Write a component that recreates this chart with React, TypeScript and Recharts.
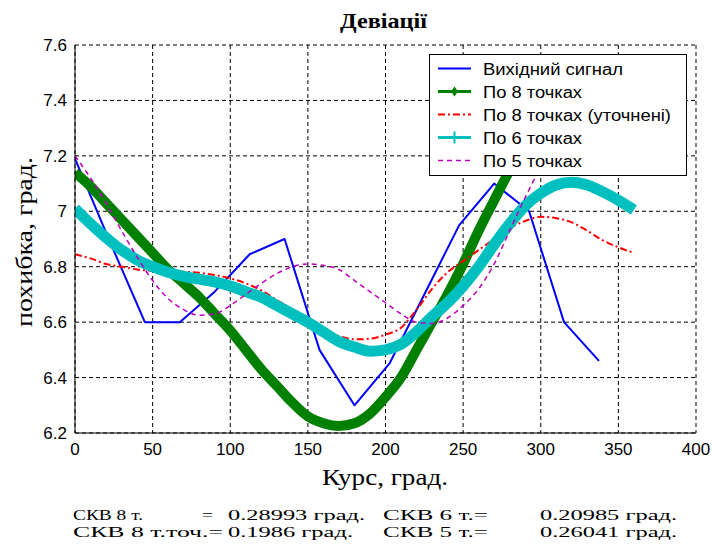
import { LineChart, Line, XAxis, YAxis, CartesianGrid } from "recharts";

// course, degrees
const sourceCourse = [0, 22.5, 45, 67.5, 90, 112.5, 135, 157.5, 180, 202.5, 225, 247.5, 270, 292.5, 315, 337.5];
const sourceSignal = [7.19, 6.89, 6.6, 6.6, 6.71, 6.845, 6.9, 6.5, 6.3, 6.45, 6.7, 6.95, 7.1, 7.0, 6.6, 6.46];

const fitCourse = [
  0, 10, 20, 30, 40, 50, 60, 70, 80, 90, 100, 110, 120, 130, 140, 150, 160, 170, 180,
  190, 200, 210, 220, 230, 240, 250, 260, 270, 280, 290, 300, 310, 320, 330, 340, 350, 360,
];
const fit8 = [
  7.14, 7.09, 7.03, 6.97, 6.91, 6.85, 6.79, 6.74, 6.69, 6.63, 6.57, 6.5, 6.43, 6.37, 6.31, 6.26, 6.235, 6.225, 6.235,
  6.27, 6.33, 6.4, 6.5, 6.6, 6.7, 6.81, 6.93, 7.04, 7.15, 7.27, 7.37, 7.45, 7.49, 7.47, 7.4, 7.28, 7.14,
];
const fit8Refined = [
  6.845, 6.83, 6.81, 6.8, 6.79, 6.785, 6.783, 6.782, 6.778, 6.77, 6.758, 6.74, 6.715, 6.68, 6.645, 6.6, 6.57, 6.55, 6.538,
  6.54, 6.555, 6.58, 6.645, 6.72, 6.78, 6.82, 6.86, 6.9, 6.94, 6.965, 6.98, 6.975, 6.96, 6.93, 6.895, 6.87, 6.85,
];
const fit6 = [
  7.01, 6.955, 6.905, 6.86, 6.825, 6.8, 6.78, 6.765, 6.755, 6.745, 6.73, 6.71, 6.69, 6.66, 6.63, 6.6, 6.565, 6.53, 6.51,
  6.495, 6.5, 6.52, 6.565, 6.62, 6.67, 6.73, 6.8, 6.88, 6.955, 7.02, 7.065, 7.095, 7.105, 7.095, 7.07, 7.04, 7.005,
];
const fit5 = [
  7.2, 7.12, 7.03, 6.93, 6.835, 6.75, 6.685, 6.645, 6.625, 6.63, 6.66, 6.7, 6.74, 6.775, 6.8, 6.81, 6.805, 6.79, 6.75,
  6.71, 6.67, 6.63, 6.6, 6.595, 6.615, 6.66, 6.72, 6.81, 6.93, 7.05, 7.16, 7.26, 7.32, 7.34, 7.32, 7.27, 7.2,
];

const xTicks = [0, 50, 100, 150, 200, 250, 300, 350, 400];
const yTicks = [6.2, 6.4, 6.6, 6.8, 7, 7.2, 7.4, 7.6];

const seriesNames = ["Вихідний сигнал", "По 8 точках", "По 8 точках (уточнені)", "По 6 точках", "По 5 точках"];
const legendTextWidths = [140, 99, 188, 99, 99];

// [text, x, width] for each line of the summary under the chart
const statsRows: [string, number, number][][] = [
  [["СКВ 8 т.", 73, 70], ["=", 202, 11], ["0.28993 град.", 228, 137], ["СКВ 6 т.=", 383, 105], ["0.20985 град.", 540, 137]],
  [["СКВ 8 т.точ.=", 73, 150], ["0.1986 град.", 228, 125], ["СКВ 5 т.=", 383, 105], ["0.26041 град.", 540, 137]],
];

const toPoints = (xs: number[], ys: number[]) => xs.map((x, i) => ({ x, y: ys[i] }));

const series = [
  { name: seriesNames[0], data: toPoints(sourceCourse, sourceSignal), color: "#0000ff", width: 2, dash: undefined, type: "linear" },
  { name: seriesNames[1], data: toPoints(fitCourse, fit8), color: "#008000", width: 10, dash: undefined, type: "monotone" },
  { name: seriesNames[2], data: toPoints(fitCourse, fit8Refined), color: "#ff0000", width: 2, dash: "7 3 2 3", type: "monotone" },
  { name: seriesNames[3], data: toPoints(fitCourse, fit6), color: "#00bfbf", width: 11, dash: undefined, type: "monotone" },
  { name: seriesNames[4], data: toPoints(fitCourse, fit5), color: "#bf00bf", width: 1.5, dash: "5 4", type: "monotone" },
];

const serif = "'Liberation Serif', 'Times New Roman', serif";
const sans = "'Liberation Sans', Arial, sans-serif";
const tickFont = { fill: "#000", fontSize: 17, fontFamily: sans };
const noLabel = () => "";

const LegendBox = () => (
  <g>
    <rect x={429.5} y={54.5} width={257} height={121} fill="#fff" stroke="#000" />
    {series.map((s, i) => {
      const cy = 68.5 + i * 23;
      return (
        <g key={s.name}>
          <line x1={438} y1={cy} x2={471} y2={cy} stroke={s.color} strokeWidth={Math.min(s.width, 3)} strokeDasharray={s.dash} />
          {i === 1 && <polygon points={`454.5,${cy - 5} 458,${cy} 454.5,${cy + 5} 451,${cy}`} fill={s.color} />}
          {i === 3 && <line x1={454.5} y1={cy - 6} x2={454.5} y2={cy + 6} stroke={s.color} strokeWidth={2} />}
          <text x={483} y={cy + 6} fontFamily={sans} fontSize={16} textLength={legendTextWidths[i]} lengthAdjust="spacingAndGlyphs">
            {s.name}
          </text>
        </g>
      );
    })}
  </g>
);

export default function App() {
  return (
    <div style={{ position: "absolute", left: 0, top: 0, width: 712, height: 553, background: "#fff" }}>
      <LineChart width={712} height={553} margin={{ top: 45, right: 16, bottom: 90, left: 35 }}>
        <CartesianGrid stroke="#000" strokeDasharray="4 3" />
        {/* inward tick marks first, so they sit on the plot frame */}
        <XAxis xAxisId="bottomIn" type="number" domain={[0, 400]} ticks={xTicks} height={0} mirror tickSize={6} tickFormatter={noLabel} axisLine={false} tickLine={{ stroke: "#000" }} />
        <XAxis
          type="number"
          dataKey="x"
          domain={[0, 400]}
          ticks={xTicks}
          allowDataOverflow
          height={30}
          tickLine={false}
          tickSize={0}
          tickMargin={10}
          axisLine={{ stroke: "#000" }}
          tick={tickFont}
        />
        <XAxis xAxisId="top" orientation="top" type="number" domain={[0, 400]} ticks={xTicks} height={0} mirror tickSize={6} tickFormatter={noLabel} axisLine={{ stroke: "#000" }} tickLine={{ stroke: "#000" }} />
        <YAxis yAxisId="leftIn" type="number" domain={[6.2, 7.6]} ticks={yTicks} width={0} mirror tickSize={6} tickFormatter={noLabel} axisLine={false} tickLine={{ stroke: "#000" }} />
        <YAxis
          type="number"
          domain={[6.2, 7.6]}
          ticks={yTicks}
          allowDataOverflow
          width={40}
          tickLine={false}
          tickSize={0}
          tickMargin={8}
          axisLine={{ stroke: "#000" }}
          tickFormatter={(v: number) => String(Number(v.toFixed(1)))}
          tick={tickFont}
        />
        <YAxis yAxisId="right" orientation="right" type="number" domain={[6.2, 7.6]} ticks={yTicks} width={0} mirror tickSize={6} tickFormatter={noLabel} axisLine={{ stroke: "#000" }} tickLine={{ stroke: "#000" }} />
        {series.map((s) => (
          <Line
            key={s.name}
            data={s.data}
            dataKey="y"
            name={s.name}
            type={s.type as "linear" | "monotone"}
            stroke={s.color}
            strokeWidth={s.width}
            strokeDasharray={s.dash}
            strokeLinejoin="round"
            dot={false}
            activeDot={false}
            isAnimationActive={false}
          />
        ))}
      </LineChart>

      <svg width={712} height={553} style={{ position: "absolute", left: 0, top: 0, pointerEvents: "none" }}>
        <text x={340} y={28} fontFamily={serif} fontWeight="bold" fontSize={20} textLength={87} lengthAdjust="spacingAndGlyphs">
          Девіації
        </text>
        <text x={322} y={485} fontFamily={serif} fontSize={23} textLength={126} lengthAdjust="spacingAndGlyphs">
          Курс, град.
        </text>
        <text
          x={0}
          y={0}
          transform="translate(32, 327) rotate(-90)"
          fontFamily={serif}
          fontSize={23}
          textLength={170}
          lengthAdjust="spacingAndGlyphs"
        >
          похибка, град.
        </text>
        <LegendBox />
        {statsRows.map((row, r) =>
          row.map(([t, x, w]) => (
            <text key={`${r}-${x}`} x={x} y={520 + r * 17} fontFamily={serif} fontSize={14.5} textLength={w} lengthAdjust="spacingAndGlyphs">
              {t}
            </text>
          ))
        )}
      </svg>
    </div>
  );
}
